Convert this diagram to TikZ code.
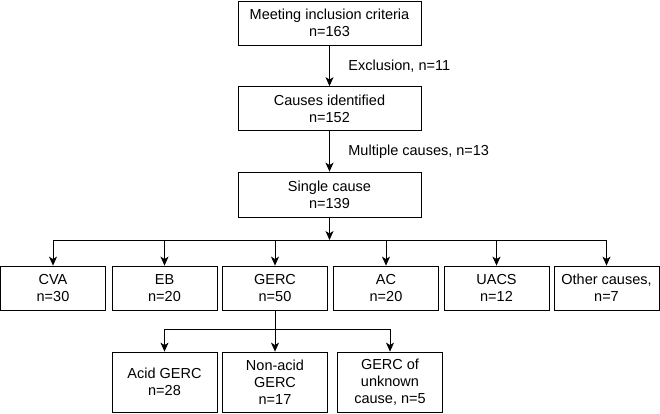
\documentclass[tikz,border=0pt]{standalone}
\usepackage{fontspec}
\setmainfont{Liberation Sans}
\usetikzlibrary{arrows.meta}
\begin{document}
\begin{tikzpicture}[x=1pt,y=-1pt,
  box/.style={draw,line width=0.8pt,align=center,inner sep=0pt,font=\fontsize{14.5}{17}\selectfont},
  arr/.style={line width=0.8pt,-{Stealth[length=9pt,width=8pt,inset=2.5pt]}},
  ln/.style={line width=0.8pt},
  lbl/.style={anchor=west,inner sep=0pt,font=\fontsize{14.5}{17}\selectfont}]
\useasboundingbox (0,0) rectangle (660,413);
\node[box,minimum width=183pt,minimum height=44pt] (b1) at (329.5,23) {Meeting inclusion criteria\\n=163};
\node[box,minimum width=183pt,minimum height=44pt] (b2) at (329.5,108.5) {Causes identified\\n=152};
\node[box,minimum width=183pt,minimum height=45pt] (b3) at (329.5,194.5) {Single cause\\n=139};
\draw[arr] (b1) -- (b2) node[lbl,pos=0.5,xshift=18.5pt] (l1) {Exclusion, n=11};
\draw[arr] (b2) -- (b3) node[lbl,pos=0.5,xshift=18.5pt] (l2) {Multiple causes, n=13};
\coordinate (j) at (329.5,240);
\draw[arr] (b3) -- (j);
\node[box,minimum width=105pt,minimum height=44pt] (cva) at (53,288) {CVA\\n=30};
\node[box,minimum width=105pt,minimum height=44pt] (eb) at (164.5,288) {EB\\n=20};
\node[box,minimum width=105pt,minimum height=44pt] (gerc) at (275,288) {GERC\\n=50};
\node[box,minimum width=105pt,minimum height=44pt] (ac) at (386,288) {AC\\n=20};
\node[box,minimum width=105pt,minimum height=44pt] (uacs) at (496.5,288) {UACS\\n=12};
\node[box,minimum width=105pt,minimum height=44pt] (oth) at (606.5,288) {Other causes,\\n=7};
\coordinate (hl) at (cva.north |- j);
\coordinate (hr) at (oth.north |- j);
\draw[ln] (hl) -- (hr);
\foreach \n in {cva,eb,gerc,ac,uacs,oth}{\draw[arr] (\n.north |- j) -- (\n.north);}
\node[box,minimum width=105pt,minimum height=60pt] (acid) at (164.5,382) {Acid GERC\\n=28};
\node[box,minimum width=105pt,minimum height=60pt] (nonacid) at (275,382) {Non-acid\\GERC\\n=17};
\node[box,minimum width=105pt,minimum height=60pt] (unk) at (390,382) {GERC of\\unknown\\cause, n=5};
\coordinate (k) at (275,329);
\draw[ln] (gerc.south) -- (k);
\draw[ln] (acid.north |- k) -- (unk.north |- k);
\foreach \n in {acid,nonacid,unk}{\draw[arr] (\n.north |- k) -- (\n.north);}
\end{tikzpicture}
\end{document}
